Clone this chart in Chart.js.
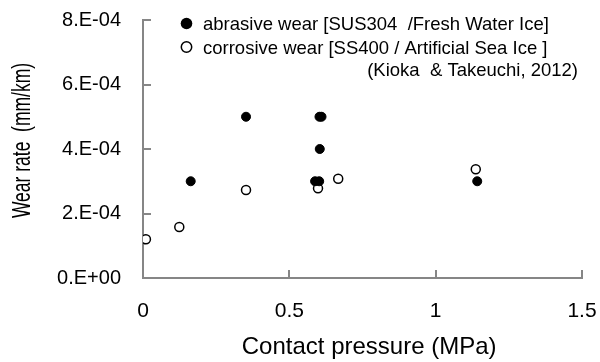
<!DOCTYPE html>
<html>
<head>
<meta charset="utf-8">
<script src="https://cdn.jsdelivr.net/npm/chart.js@4/dist/chart.umd.min.js"></script>
<style>
  html, body { margin: 0; padding: 0; background: #fff; }
  #wrap { width: 600px; height: 362px; position: relative; }
</style>
</head>
<body>
<div id="wrap"><canvas id="c" width="600" height="362"></canvas></div>
<script>
// ---- data ----
const seriesNames = [
  'abrasive wear [SUS304  /Fresh Water Ice]',
  'corrosive wear [SS400 / Artificial Sea Ice ]'
];
const citation = '(Kioka  & Takeuchi, 2012)';
const abrasiveX = [0.163, 0.352, 0.588, 0.602, 0.604, 0.603, 0.610, 1.142];
const abrasiveY = [3.0e-4, 5.0e-4, 3.0e-4, 3.0e-4, 4.0e-4, 5.0e-4, 5.0e-4, 3.0e-4];
const corrosiveX = [0.010, 0.124, 0.352, 0.598, 0.667, 1.137];
const corrosiveY = [1.20e-4, 1.58e-4, 2.73e-4, 2.78e-4, 3.08e-4, 3.37e-4];
const xTickValues = [0, 0.5, 1, 1.5];
const xTickLabels = ['0', '0.5', '1', '1.5'];
const yTickValues = [0, 2e-4, 4e-4, 6e-4, 8e-4];
const yTickLabels = ['0.E+00', '2.E-04', '4.E-04', '6.E-04', '8.E-04'];
const xTitle = 'Contact pressure (MPa)';
const yTitle = 'Wear rate  (mm/km)';

const AXIS = '#868686';
const FONT = '"Liberation Sans", Arial, sans-serif';

function toPts(xs, ys) { return xs.map((x, i) => ({ x: x, y: ys[i] })); }

function labelFor(values, labels, v) {
  for (let i = 0; i < values.length; i++) {
    if (Math.abs(values[i] - v) < 1e-9) return labels[i];
  }
  return '';
}

const insideTicks = {
  id: 'insideTicks',
  afterDraw(chart) {
    const ctx = chart.ctx;
    const xs = chart.scales.x, ys = chart.scales.y;
    const ca = chart.chartArea;
    ctx.save();
    ctx.strokeStyle = AXIS;
    ctx.lineWidth = 2;
    ctx.beginPath();
    yTickValues.forEach(v => {
      const p = Math.round(ys.getPixelForValue(v));
      ctx.moveTo(ca.left, p);
      ctx.lineTo(ca.left + 8, p);
    });
    xTickValues.forEach(v => {
      const p = Math.round(xs.getPixelForValue(v));
      ctx.moveTo(p, ca.bottom);
      ctx.lineTo(p, ca.bottom - 8);
    });
    ctx.stroke();
    ctx.restore();
  }
};

// y-axis title, drawn condensed along its length like the reference
const yTitlePlugin = {
  id: 'yTitle',
  afterDraw(chart) {
    const ctx = chart.ctx;
    ctx.save();
    ctx.translate(23, 140.5);
    ctx.rotate(-Math.PI / 2);
    ctx.scale(0.70, 1);
    ctx.font = '25px ' + FONT;
    ctx.fillStyle = '#000';
    ctx.textAlign = 'center';
    ctx.textBaseline = 'middle';
    ctx.fillText(yTitle, 0, 0);
    ctx.restore();
  }
};

const legendPlugin = {
  id: 'customLegend',
  afterDraw(chart) {
    const ctx = chart.ctx;
    ctx.save();
    ctx.font = '18.5px ' + FONT;
    ctx.textBaseline = 'middle';
    ctx.fillStyle = '#000';
    ctx.beginPath();
    ctx.arc(186.5, 23.5, 5.8, 0, Math.PI * 2);
    ctx.fill();
    ctx.fillText(chart.data.datasets[0].label, 203, 25);
    ctx.beginPath();
    ctx.arc(186.5, 47, 5.2, 0, Math.PI * 2);
    ctx.fillStyle = '#fff';
    ctx.fill();
    ctx.lineWidth = 1.5;
    ctx.strokeStyle = '#000';
    ctx.stroke();
    ctx.fillStyle = '#000';
    ctx.fillText(chart.data.datasets[1].label, 203, 48.5);
    ctx.textAlign = 'right';
    ctx.fillText(citation, 578, 71);
    ctx.restore();
  }
};

new Chart(document.getElementById('c'), {
  type: 'scatter',
  data: {
    datasets: [
      {
        label: seriesNames[0],
        data: toPts(abrasiveX, abrasiveY),
        pointRadius: 4.5,
        pointBackgroundColor: '#000',
        pointBorderColor: '#000',
        pointBorderWidth: 1,
        pointHoverRadius: 4.5
      },
      {
        label: seriesNames[1],
        data: toPts(corrosiveX, corrosiveY),
        pointRadius: 4.5,
        pointBackgroundColor: '#fff',
        pointBorderColor: '#000',
        pointBorderWidth: 1.5,
        pointHoverRadius: 4.5
      }
    ]
  },
  options: {
    responsive: false,
    animation: false,
    devicePixelRatio: 1,
    layout: { padding: { top: 20, right: 18, bottom: 0, left: 0 } },
    plugins: {
      legend: { display: false },
      tooltip: { enabled: false }
    },
    scales: {
      x: {
        type: 'linear',
        min: 0, max: 1.5,
        afterFit(s) { s.height = 84; s.paddingLeft = 0; s.paddingRight = 0; },
        afterBuildTicks(s) { s.ticks = xTickValues.map(v => ({ value: v })); },
        border: { display: true, color: AXIS, width: 2 },
        grid: { display: true, drawOnChartArea: false, drawTicks: false, color: 'rgba(0,0,0,0)' },
        ticks: {
          padding: 21,
          color: '#000',
          font: { family: FONT, size: 21 },
          maxRotation: 0,
          callback: v => labelFor(xTickValues, xTickLabels, v)
        },
        title: {
          display: true,
          text: '  ' + xTitle,
          color: '#000',
          font: { family: FONT, size: 24, lineHeight: 1 },
          padding: { top: 0, bottom: 3 }
        }
      },
      y: {
        type: 'linear',
        min: 0, max: 8e-4,
        afterFit(s) { s.width = 143; s.paddingTop = 0; s.paddingBottom = 0; },
        afterBuildTicks(s) { s.ticks = yTickValues.map(v => ({ value: v })); },
        border: { display: true, color: AXIS, width: 2 },
        grid: { display: true, drawOnChartArea: false, drawTicks: false, color: 'rgba(0,0,0,0)' },
        ticks: {
          padding: 22,
          color: '#000',
          font: { family: FONT, size: 20 },
          callback: v => labelFor(yTickValues, yTickLabels, v)
        },
        title: { display: false }
      }
    }
  },
  plugins: [insideTicks, yTitlePlugin, legendPlugin]
});
</script>
</body>
</html>
